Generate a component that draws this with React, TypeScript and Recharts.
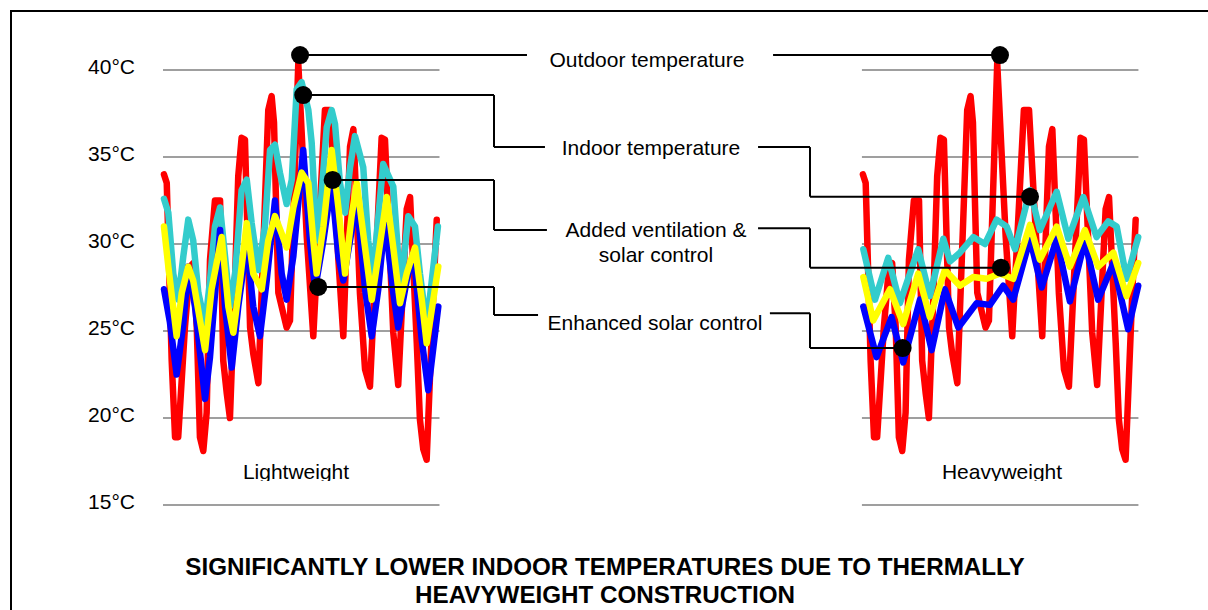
import { Line, LineChart, ReferenceDot, ReferenceLine, XAxis, YAxis } from 'recharts';

const FONT = '"Liberation Sans", Arial, Helvetica, sans-serif';

// [day of the period, °C].
// Outdoor temperature is the same weather file for both buildings.
const OUTDOOR: [number, number][] = [
  [0.05, 34.0], [0.19, 33.5], [0.44, 23.3], [0.61, 18.9], [0.77, 18.9], [1.11, 25.2],
  [1.37, 28.7], [1.53, 28.9], [1.71, 25.2], [1.87, 18.9], [2.04, 18.1], [2.21, 20.3],
  [2.38, 29.1], [2.63, 32.5], [2.89, 32.5], [3.05, 23.3], [3.23, 21.4], [3.39, 20.0],
  [3.65, 28.1], [3.81, 33.9], [3.98, 36.1], [4.15, 36.0], [4.41, 25.2], [4.57, 23.7],
  [4.83, 22.0], [5.33, 37.7], [5.5, 38.5], [5.62, 37.0], [5.84, 27.2], [6.09, 26.0],
  [6.26, 25.2], [6.43, 25.6], [6.85, 40.4], [7.28, 30.4], [7.61, 24.7], [8.2, 37.7],
  [8.46, 37.7], [8.88, 29.1], [9.13, 24.7], [9.47, 35.6], [9.64, 36.6], [9.97, 27.2],
  [10.23, 22.8], [10.48, 21.8], [11.07, 36.1], [11.24, 36.0], [11.66, 24.9], [11.91, 21.9],
  [12.34, 32.0], [12.51, 32.7], [12.85, 24.3], [13.01, 19.9], [13.18, 18.2], [13.35, 17.6],
  [13.69, 27.2], [13.86, 31.4],
];

// Lightweight construction
const INDOOR_LIGHT: [number, number][] = [
  [0.05, 32.6], [0.27, 31.8], [0.52, 28.3], [0.77, 26.8], [1.03, 29.3], [1.28, 31.4],
  [1.53, 30.2], [1.79, 27.2], [2.13, 25.4], [2.38, 27.9], [2.63, 31.0], [2.89, 32.1],
  [3.14, 29.3], [3.39, 26.4], [3.65, 28.3], [3.98, 33.1], [4.24, 33.7], [4.49, 31.2],
  [4.83, 28.5], [5.16, 31.0], [5.42, 35.4], [5.67, 35.7], [5.92, 34.1], [6.26, 32.3],
  [6.52, 33.7], [6.77, 38.9], [7.02, 39.3], [7.36, 37.7], [7.53, 35.8], [7.7, 32.0],
  [7.83, 30.2], [8.03, 32.9], [8.29, 36.7], [8.54, 37.7], [8.71, 36.9], [8.96, 33.5],
  [9.22, 31.8], [9.47, 34.4], [9.72, 36.2], [10.14, 34.4], [10.39, 30.2], [10.61, 28.0],
  [11.15, 34.6], [11.66, 33.3], [11.91, 29.3], [12.08, 27.9], [12.42, 31.6], [12.76, 31.0],
  [13.01, 28.3], [13.35, 25.3], [13.61, 27.9], [13.92, 31.0],
];

const VENT_LIGHT: [number, number][] = [
  [0.05, 31.0], [0.27, 28.7], [0.69, 24.7], [0.95, 27.2], [1.28, 28.7], [1.53, 27.9],
  [2.13, 23.9], [2.46, 27.4], [2.97, 30.4], [3.31, 26.4], [3.56, 24.9], [3.9, 27.9],
  [4.24, 31.2], [4.57, 28.3], [5.0, 27.4], [5.33, 30.2], [5.67, 31.6], [6.01, 30.6],
  [6.26, 29.8], [6.6, 32.1], [7.02, 34.1], [7.36, 33.5], [7.61, 30.2], [7.78, 28.3],
  [8.12, 31.0], [8.54, 35.4], [8.88, 32.1], [9.22, 28.3], [9.55, 31.6], [9.81, 33.5],
  [10.23, 29.8], [10.57, 26.8], [10.9, 29.3], [11.33, 32.7], [11.66, 29.8], [12.0, 26.6],
  [12.34, 28.3], [12.76, 29.8], [13.1, 26.8], [13.35, 24.3], [13.94, 28.7],
];

const SOLAR_LIGHT: [number, number][] = [
  [0.05, 27.4], [0.35, 25.5], [0.69, 22.5], [1.03, 25.4], [1.28, 28.7], [1.62, 26.4],
  [2.13, 21.1], [2.38, 23.5], [2.89, 30.8], [3.14, 26.4], [3.48, 22.9], [3.81, 26.4],
  [4.24, 30.0], [4.57, 26.4], [4.91, 24.7], [5.25, 27.9], [5.67, 32.5], [6.01, 28.3],
  [6.26, 26.8], [6.6, 29.3], [7.1, 35.4], [7.44, 30.2], [7.7, 27.4], [8.12, 30.2],
  [8.54, 33.5], [8.88, 29.3], [9.13, 27.9], [9.81, 32.5], [10.23, 27.4], [10.57, 24.7],
  [10.9, 27.4], [11.24, 31.4], [11.66, 27.2], [11.91, 25.2], [12.34, 27.9], [12.68, 29.5],
  [13.1, 24.5], [13.43, 21.6], [13.94, 26.4],
];

// Heavyweight construction
const INDOOR_HEAVY: [number, number][] = [
  [0.07, 29.7], [0.66, 26.8], [1.33, 29.2], [1.92, 26.6], [2.85, 29.7], [3.44, 27.0],
  [4.12, 30.3], [4.46, 29.0], [4.96, 29.5], [5.64, 30.4], [6.23, 30.0], [6.82, 31.4],
  [7.33, 31.0], [7.75, 29.7], [8.51, 33.1], [9.01, 30.8], [9.86, 33.0], [10.45, 30.3],
  [11.21, 32.7], [11.88, 30.4], [12.47, 31.3], [12.9, 31.0], [13.4, 28.0], [13.99, 30.4],
];

const VENT_HEAVY: [number, number][] = [
  [0.07, 28.1], [0.57, 25.6], [1.42, 27.4], [2.09, 25.4], [2.85, 28.3], [3.44, 25.8],
  [4.2, 28.5], [4.96, 27.6], [5.64, 28.1], [6.31, 28.0], [6.99, 28.3], [7.66, 28.0],
  [8.51, 31.1], [9.01, 29.1], [9.86, 31.0], [10.53, 28.7], [11.29, 30.8], [11.96, 28.7],
  [12.73, 29.5], [13.4, 27.0], [13.99, 28.9],
];

const SOLAR_HEAVY: [number, number][] = [
  [0.07, 26.4], [0.74, 23.5], [1.5, 25.8], [2.09, 23.2], [2.94, 26.8], [3.53, 23.9],
  [4.2, 27.4], [4.88, 25.2], [5.81, 26.6], [6.48, 26.5], [7.15, 27.6], [7.66, 26.8],
  [8.51, 30.3], [9.1, 27.5], [9.86, 30.3], [10.53, 26.7], [11.29, 30.2], [11.96, 26.8],
  [12.73, 28.9], [13.48, 25.1], [13.99, 27.6],
];

const TEMP_TICKS = [15, 20, 25, 30, 35, 40];
const PANEL_DAYS = 14;
// both panels share one day axis; the heavyweight one starts further right
const HEAVY_START = 35.39;
const X_MAX = 49.5;
const Y_DOMAIN: [number, number] = [13, 42];

// callout leaders, [day on the shared axis, °C]
const LEADERS: [number, number][][] = [
  [[6.94, 40.86], [18.43, 40.86]],
  [[30.89, 40.86], [42.38, 40.86]],
  [[7.1, 38.56], [16.76, 38.56], [16.76, 35.57], [19.34, 35.57]],
  [[30.13, 35.57], [32.76, 35.57], [32.76, 32.72], [43.9, 32.72]],
  [[8.59, 33.68], [16.76, 33.68], [16.76, 30.8], [19.44, 30.8]],
  [[30.13, 30.9], [32.76, 30.9], [32.76, 28.64], [42.43, 28.64]],
  [[7.86, 27.53], [16.76, 27.53], [16.76, 25.92], [18.99, 25.92]],
  [[30.73, 26.02], [32.76, 26.02], [32.76, 24.02], [37.45, 24.02]],
];

const RED = '#ff0000';
const CYAN = '#33cccc';
const BLUE = '#0000ff';
const YELLOW = '#ffff00';

const toRows = (pts: [number, number][], offset: number) =>
  pts.map(([d, t]) => ({ d: d + offset, t }));

const SERIES = [
  { id: 'outdoor-l', pts: OUTDOOR, offset: 0, color: RED },
  { id: 'outdoor-h', pts: OUTDOOR, offset: HEAVY_START, color: RED },
  { id: 'indoor-l', pts: INDOOR_LIGHT, offset: 0, color: CYAN },
  { id: 'indoor-h', pts: INDOOR_HEAVY, offset: HEAVY_START, color: CYAN },
  { id: 'solar-l', pts: SOLAR_LIGHT, offset: 0, color: BLUE },
  { id: 'solar-h', pts: SOLAR_HEAVY, offset: HEAVY_START, color: BLUE },
  { id: 'vent-l', pts: VENT_LIGHT, offset: 0, color: YELLOW },
  { id: 'vent-h', pts: VENT_HEAVY, offset: HEAVY_START, color: YELLOW },
];

const TempTick = ({ x, y, payload }: any) => (
  <text x={x} y={y} dy={4} textAnchor="end" fontSize={21} fontFamily={FONT} fill="#000">
    {payload.value}°C
  </text>
);

const labelStyle = { fontFamily: FONT, fontSize: 21, fill: '#000' };
const titleStyle = { fontFamily: FONT, fontSize: 24.2, fontWeight: 'bold', fill: '#000' };

export default function App() {
  const panels = [0, HEAVY_START];
  return (
    <div
      style={{
        position: 'absolute',
        left: 0,
        top: 0,
        width: 1208,
        height: 610,
        background: '#fff',
        overflow: 'hidden',
      }}
    >
      <div
        style={{
          position: 'absolute',
          left: 10,
          top: 10,
          width: 1220,
          height: 620,
          borderTop: '2px solid #000',
          borderLeft: '2px solid #000',
        }}
      />
      <div style={{ position: 'absolute', left: 0, top: 0 }}>
        <LineChart width={1208} height={610} margin={{ top: 35.2, right: 67.4, bottom: 70.2, left: 83 }}>
          <XAxis type="number" dataKey="d" domain={[0, X_MAX]} hide />
          <YAxis
            type="number"
            domain={Y_DOMAIN}
            ticks={TEMP_TICKS}
            interval={0}
            width={80}
            axisLine={false}
            tickLine={false}
            tickSize={0}
            tickMargin={28}
            tick={TempTick}
          />
          {panels.flatMap((start) =>
            TEMP_TICKS.map((t) => (
              <ReferenceLine
                key={`grid-${start}-${t}`}
                segment={[
                  { x: start, y: t },
                  { x: start + PANEL_DAYS, y: t },
                ]}
                stroke="#7f7f7f"
                strokeWidth={1.5}
                ifOverflow="visible"
              />
            )),
          )}
          {SERIES.map((s) => (
            <Line
              key={s.id}
              data={toRows(s.pts, s.offset)}
              dataKey="t"
              type="linear"
              stroke={s.color}
              strokeWidth={6.5}
              strokeLinejoin="round"
              strokeLinecap="round"
              dot={false}
              activeDot={false}
              isAnimationActive={false}
            />
          ))}
          {LEADERS.flatMap((path, i) =>
            path.slice(1).map((p, j) => (
              <ReferenceLine
                key={`leader-${i}-${j}`}
                segment={[
                  { x: path[j][0], y: path[j][1] },
                  { x: p[0], y: p[1] },
                ]}
                stroke="#000"
                strokeWidth={2}
                ifOverflow="visible"
              />
            )),
          )}
          {LEADERS.map((path, i) => {
            // the dot sits on whichever end of the leader touches a curve
            const end = path[0][0] < 16 || path[0][0] > 34 ? path[0] : path[path.length - 1];
            return (
              <ReferenceDot
                key={`dot-${i}`}
                x={end[0]}
                y={end[1]}
                r={9}
                fill="#000"
                stroke="none"
                ifOverflow="visible"
              />
            );
          })}
        </LineChart>
      </div>
      <svg width={1208} height={610} style={{ position: 'absolute', left: 0, top: 0, pointerEvents: 'none' }}>
        <defs>
          <clipPath id="panel-caption">
            <rect x={0} y={0} width={1208} height={481} />
          </clipPath>
        </defs>
        <text x={647} y={67} textAnchor="middle" {...labelStyle}>Outdoor temperature</text>
        <text x={651} y={155} textAnchor="middle" {...labelStyle}>Indoor temperature</text>
        <text x={656} y={237} textAnchor="middle" {...labelStyle}>Added ventilation &amp;</text>
        <text x={656} y={262} textAnchor="middle" {...labelStyle}>solar control</text>
        <text x={655} y={330} textAnchor="middle" {...labelStyle}>Enhanced solar control</text>
        <g clipPath="url(#panel-caption)">
          <text x={296} y={479} textAnchor="middle" {...labelStyle}>Lightweight</text>
          <text x={1002} y={479} textAnchor="middle" {...labelStyle}>Heavyweight</text>
        </g>
        <text x={605} y={575} textAnchor="middle" {...titleStyle}>
          SIGNIFICANTLY LOWER INDOOR TEMPERATURES DUE TO THERMALLY
        </text>
        <text x={605} y={603} textAnchor="middle" {...titleStyle}>
          HEAVYWEIGHT CONSTRUCTION
        </text>
      </svg>
    </div>
  );
}
